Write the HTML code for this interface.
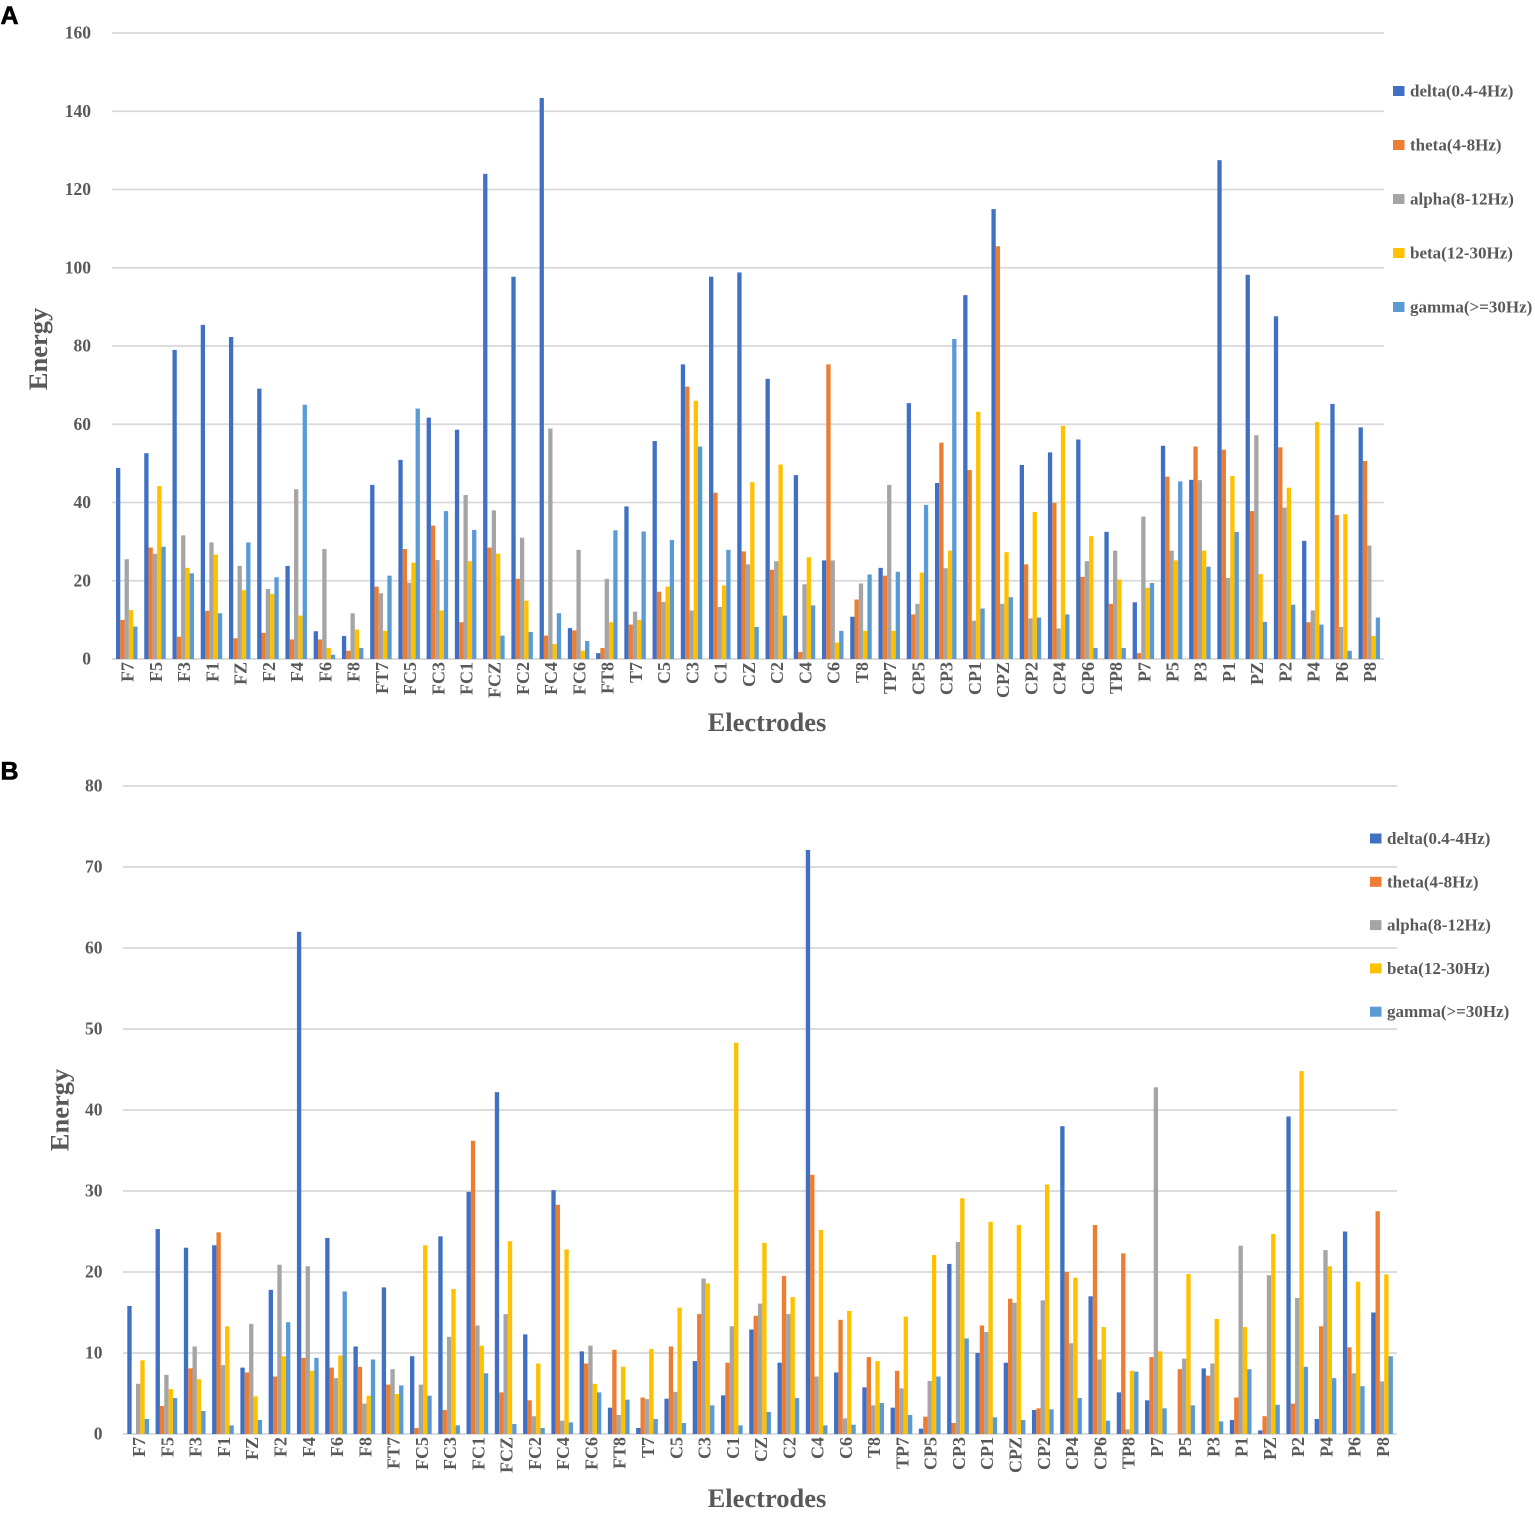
<!DOCTYPE html>
<html lang="en">
<head>
<meta charset="utf-8">
<title>Electrode band energy charts</title>
<style>
html,body{margin:0;padding:0;background:#fff;}
svg{display:block;filter:blur(0.35px);}
text{font-family:"Liberation Serif",serif;font-weight:bold;fill:#595959;}
.panel{font-family:"Liberation Sans",sans-serif;fill:#000;stroke:#000;stroke-width:0.6px;font-size:25px;}
</style>
</head>
<body>
<svg id="chart" width="1535" height="1515" viewBox="0 0 1535 1515" xmlns="http://www.w3.org/2000/svg"></svg>
<script>
const categories = ["F7","F5","F3","F1","FZ","F2","F4","F6","F8","FT7","FC5","FC3","FC1","FCZ","FC2","FC4","FC6","FT8","T7","C5","C3","C1","CZ","C2","C4","C6","T8","TP7","CP5","CP3","CP1","CPZ","CP2","CP4","CP6","TP8","P7","P5","P3","P1","PZ","P2","P4","P6","P8"];
const seriesNames = ["delta(0.4-4Hz)","theta(4-8Hz)","alpha(8-12Hz)","beta(12-30Hz)","gamma(>=30Hz)"];
const ticksA = [0,20,40,60,80,100,120,140,160];
const ticksB = [0,10,20,30,40,50,60,70,80];

const deltaA = [48.8,52.6,79,85.4,82.3,69.1,23.8,7.1,5.9,44.5,50.9,61.7,58.6,124,97.7,143.4,7.9,1.5,39,55.7,75.3,97.7,98.8,71.6,47,25.2,10.8,23.3,65.4,45,93,115,49.6,52.8,56.1,32.5,14.5,54.5,45.8,127.5,98.2,87.6,30.2,65.2,59.2];
const thetaA = [10,28.5,5.7,12.3,5.3,6.7,5,5,2.1,18.5,28.1,34.1,9.4,28.5,20.5,6,7.3,2.8,8.8,17.2,69.6,42.5,27.5,22.8,1.8,75.3,15.2,21.3,11.4,55.3,48.3,105.5,24.2,39.9,21,14.1,1.5,46.6,54.3,53.5,37.8,54.1,9.4,36.8,50.6];
const alphaA = [25.5,26.9,31.6,29.8,23.8,17.9,43.4,28.1,11.7,16.8,19.5,25.3,41.9,38,31,58.9,27.9,20.5,12.1,14.6,12.4,13.3,24.2,25,19.1,25.2,19.3,44.5,14.1,23.2,9.8,14.1,10.4,7.8,25,27.7,36.4,27.7,45.7,20.7,57.2,38.7,12.4,8.2,29];
const betaA = [12.5,44.2,23.3,26.7,17.6,16.6,11.1,2.8,7.5,7.2,24.6,12.4,25,26.9,14.9,3.8,2.1,9.4,10,18.5,66,18.8,45.2,49.7,26,4.2,7.2,7.2,22.1,27.7,63.2,27.3,37.6,59.6,31.4,20.3,18.2,25.2,27.7,46.8,21.7,43.8,60.6,37,5.9];
const gammaA = [8.3,28.7,21.9,11.7,29.8,20.9,65,1.1,2.8,21.3,64,37.8,33,6,6.9,11.7,4.6,32.9,32.6,30.4,54.3,27.9,8.2,11.1,13.7,7.2,21.6,22.3,39.4,81.8,12.9,15.8,10.6,11.4,2.8,2.8,19.4,45.4,23.6,32.5,9.5,13.9,8.8,2.1,10.6];

const deltaB = [15.8,25.3,23,23.3,8.2,17.8,62,24.2,10.8,18.1,9.6,24.4,29.9,42.2,12.3,30.1,10.2,3.25,0.74,4.36,9,4.77,12.9,8.8,72.1,7.6,5.76,3.25,0.66,21,10,8.8,2.96,38,17,5.14,4.16,0,8.1,1.73,0.45,39.2,1.85,25,15];
const thetaB = [0,3.46,8.1,24.9,7.6,7.1,9.4,8.2,8.3,6.1,0.74,2.96,36.2,5.14,4.16,28.3,8.7,10.4,4.5,10.8,14.8,8.8,14.6,19.5,32,14.1,9.5,7.8,2.14,1.36,13.4,16.7,3.17,20,25.8,22.3,9.5,8,7.2,4.5,2.2,3.75,13.3,10.7,27.5];
const alphaB = [6.2,7.3,10.8,8.5,13.6,20.9,20.7,6.9,3.75,8,6.1,12,13.4,14.8,2.2,1.65,10.9,2.35,4.3,5.2,19.2,13.3,16.1,14.8,7.1,1.93,3.54,5.64,6.54,23.7,12.6,16.2,16.5,11.2,9.2,0.58,42.8,9.3,8.7,23.25,19.6,16.8,22.7,7.5,6.5];
const betaB = [9.1,5.56,6.75,13.3,4.65,9.6,7.8,9.7,4.73,4.94,23.3,17.9,10.9,23.8,8.7,22.8,6.2,8.3,10.5,15.6,18.6,48.3,23.6,16.9,25.2,15.2,9,14.5,22.1,29.1,26.2,25.8,30.8,19.3,13.2,7.8,10.2,19.75,14.2,13.2,24.7,44.8,20.7,18.8,19.7];
const gammaB = [1.85,4.44,2.84,1.07,1.73,13.8,9.4,17.6,9.2,6,4.73,1.07,7.5,1.23,0.74,1.44,5.14,4.24,1.85,1.36,3.54,1.07,2.72,4.44,1.07,1.15,3.83,2.35,7.1,11.8,2.06,1.73,3.05,4.44,1.65,7.7,3.17,3.54,1.56,8,3.6,8.3,6.9,5.9,9.6];

const seriesColors = ["#4070c4","#ed7d31","#a5a5a5","#ffc000","#5b9bd5"];
const svgNS = "http://www.w3.org/2000/svg";
const root = document.getElementById("chart");

function make(tag, attrs, parent) {
  const el = document.createElementNS(svgNS, tag);
  for (const k in attrs) el.setAttribute(k, attrs[k]);
  parent.appendChild(el);
  return el;
}

function drawPanel(cfg) {
  const g = make("g", {}, root);
  
  

  const yScale = v => cfg.y0 - (v / cfg.yMax) * (cfg.y0 - cfg.yTop);
  const xBand = i => cfg.xStart + i * cfg.step;

  const letter = make("text", {x: 0.5, y: cfg.letterY, "class": "panel"}, g);
  letter.textContent = cfg.id;
  
  

  cfg.ticks.forEach(t => {
    const line = make("rect", {x: cfg.gridL, y: yScale(t) - 0.9, width: cfg.gridR - cfg.gridL, height: 1.8, fill: "#d9d9d9"}, g);
    
    
    const label = make("text", {x: cfg.tickX, y: yScale(t) + 5.5, "text-anchor": "end", "font-size": 17.5}, g);
    label.textContent = t;
    
    
  });

  cfg.series.forEach((vals, s) => {
    vals.forEach((v, i) => {
      const yy = yScale(v);
      const bar = make("rect", {x: xBand(i) + cfg.offset + s * cfg.barW, y: yy, width: cfg.barW, height: cfg.y0 - yy, fill: seriesColors[s]}, g);
      
      
    });
  });

  categories.forEach((c, i) => {
    const cx = xBand(i) + cfg.step / 2 + cfg.labelDx;
    const label = make("text", {"text-anchor": "end", "font-size": 18, transform: "translate(" + cx + "," + cfg.labelY + ") rotate(-90)"}, g);
    label.textContent = c;
    
    
  });

  const xt = make("text", {x: 767, y: cfg.xTitleY, "text-anchor": "middle", "font-size": 26.5}, g);
  xt.textContent = "Electrodes";
  
  

  const yt = make("text", {"text-anchor": "middle", "font-size": 26.5, transform: "translate(" + cfg.yTitleX + "," + cfg.yTitleY + ") rotate(-90)"}, g);
  yt.textContent = "Energy";
  
  

  seriesNames.forEach((n, s) => {
    const ly = cfg.legendY + s * cfg.legendStep;
    const sw = make("rect", {x: cfg.legendX, y: ly - 5, width: 11.5, height: 10, fill: seriesColors[s]}, g);
    
    
    const tx = make("text", {x: cfg.legendX + 17, y: ly + 5.5, "font-size": 17}, g);
    tx.textContent = n;
    
    
  });
}

drawPanel({
  id: "A", letterY: 24, y0: 659, yTop: 33, yMax: 160, ticks: ticksA,
  gridL: 112, gridR: 1384, tickX: 91, xStart: 112.5, step: 28.24, offset: 3.5, barW: 4.3,
  labelDx: 7, labelY: 662, xTitleY: 731, yTitleX: 47, yTitleY: 349,
  legendX: 1393, legendY: 91, legendStep: 54,
  series: [deltaA, thetaA, alphaA, betaA, gammaA]
});
drawPanel({
  id: "B", letterY: 779.5, y0: 1434, yTop: 786, yMax: 80, ticks: ticksB,
  gridL: 123, gridR: 1397, tickX: 102.5, xStart: 123.5, step: 28.27, offset: 3.8, barW: 4.34,
  labelDx: 7.5, labelY: 1437, xTitleY: 1507, yTitleX: 68.5, yTitleY: 1110,
  legendX: 1370, legendY: 838.5, legendStep: 43.3,
  series: [deltaB, thetaB, alphaB, betaB, gammaB]
});
</script>
</body>
</html>
